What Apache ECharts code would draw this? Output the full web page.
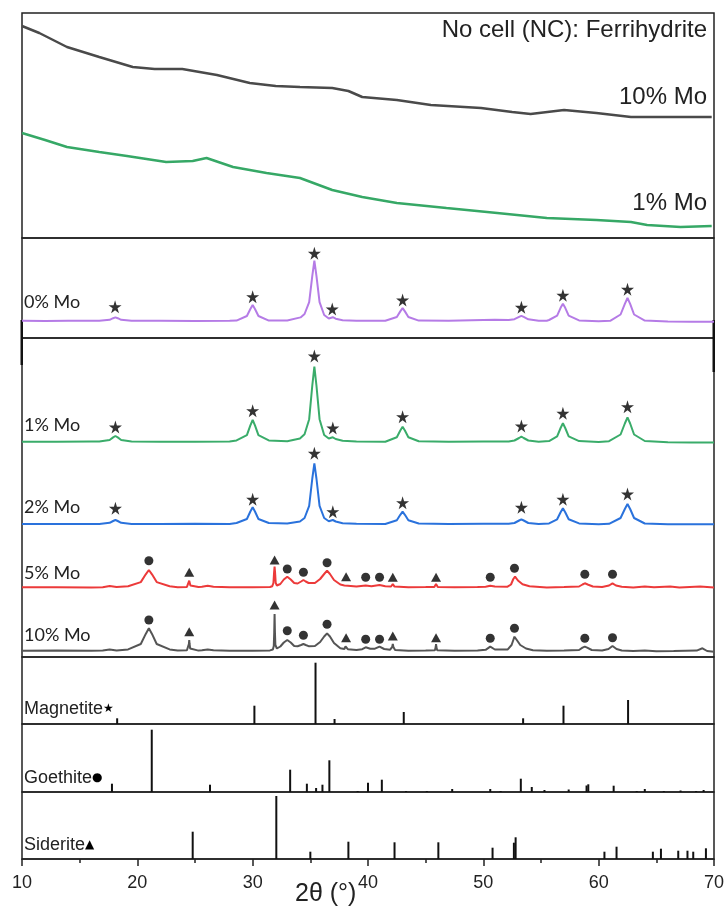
<!DOCTYPE html>
<html>
<head>
<meta charset="utf-8">
<script src="https://cdn.jsdelivr.net/npm/echarts@6/dist/echarts.min.js"></script>
<style>
  html, body { margin: 0; padding: 0; background: #fff; }
  #chart { width: 728px; height: 906px; }
</style>
</head>
<body>
<div id="chart"></div>
<script>
// 2θ range and tick labels
const xMin = 10, xMax = 70;
const xTicks = [10, 20, 30, 40, 50, 60, 70];

// top panel: no cell (NC) ferrihydrite, intensity in arbitrary units
const nc10 = [[10,212],[11.5,205],[13.9,191],[16.7,181],[19.6,171],[21.5,169],[23.9,169],[26.9,163],[29.75,155],[32,152],[34.1,151],[36.9,150],[38.3,147],[39.5,141],[42.5,138],[45.45,133],[49.8,130],[52.5,126],[54.1,124],[57.0,128],[59.8,125],[62.8,121],[65.7,121],[69.8,121]];
const nc1 = [[10,105],[12,98],[13.9,91],[16.7,86],[19.1,82],[22.5,76],[24.8,77],[26.0,80],[28.3,71],[31.2,65],[34.1,60],[36.9,48],[39.5,41],[42.5,35],[46.8,30],[51.2,25],[55.5,20],[59.8,18],[62.8,16],[64.2,13],[67.1,11],[69.8,12]];

// 0% Mo panel
const mo0 = [[10,16.3],[12,16.1],[14,16.3],[16,16.2],
  [16.7,16.2],[17.6,17.2],[17.9,18.8],[18.1,19.6],[18.3,18.8],[18.6,17.2],[19.5,16.2],
  [22,16.2],[25,16.1],[28,16.3],
  [28.6,16.4],[29.5,21.0],[29.8,28.0],[30.0,32.0],[30.2,28.0],[30.5,21.0],[31.4,16.4],
  [33,16.5],[34.15,19.6],[34.5,23.0],[34.9,34.8],[35.17,61.2],[35.35,76.3],[35.53,61.2],[35.8,34.8],[36.2,22],[36.6,18.5],
  [36.75,19.3],[36.95,19.8],[37.2,18.3],[37.8,16.8],[39,16.3],[41.5,16.2],
  [41.6,16.4],[42.5,20.0],[42.8,25.6],[43.0,28.8],[43.2,25.6],[43.5,20.0],[44.4,16.4],
  [47,16.2],[49,16.8],[51,17.2],[52.2,17],
  [52.7,17.8],[53.1,20.1],[53.3,21.2],[53.5,20.1],[53.9,17.7],[54.8,16.2],
  [55.5,16.3],[55.7,17.0],[56.4,21.3],[56.7,29.2],[56.9,33.2],[57.1,29.2],[57.4,21.3],[58.3,16.6],
  [60,15.8],[61,16.2],[61.9,22.5],[62.27,33.1],[62.5,39],[62.73,33.1],[63.07,22.5],[64.0,16.4],
  [66,15.5],[68,15.3],[70,15.2]];
const mo0Stars = [[18.07,30.3],[30.0,40.3],[35.35,83.7],[36.9,28],[43.0,37],[53.3,29.7],[56.9,41.7],[62.5,47.7]];

// main panel: 1 %, 2 %, 5 %, 10 % Mo
const mo1 = [[10,215.3],[13,215.2],[16,215.4],
  [16.7,215.4],[17.6,217.0],[17.9,219.6],[18.1,221],[18.3,219.6],[18.6,217.0],[19.5,215.5],
  [22,215.2],[25,215.3],[28,215.4],
  [28.6,216.6],[29.5,221.8],[29.8,231.6],[30.0,237],[30.2,231.6],[30.5,221.8],[31.4,216.6],
  [33,215.8],[34.1,218.5],[34.5,222.8],[34.9,237.8],[35.17,271.5],[35.35,290.3],[35.53,271.5],[35.8,237.8],[36.2,222],[36.6,218.5],
  [36.75,219],[36.95,219.7],[37.2,218],[37.8,216.2],[39,215.5],[41.5,215.3],
  [41.6,215.8],[42.5,219.8],[42.8,226.5],[43.0,230.3],[43.2,226.5],[43.5,219.8],[44.4,215.8],
  [47,215.2],[50,215.4],[52.2,215.6],
  [52.7,216.5],[53.1,219],[53.3,220.3],[53.5,219],[53.9,216.5],[54.8,215.3],
  [55.7,215.9],[56.4,220.6],[56.7,229],[56.9,233.7],[57.1,229],[57.4,220.6],[58.3,215.9],
  [60,215],[60.9,215.8],[61.9,222.5],[62.27,233.5],[62.5,239.7],[62.73,233.5],[63.07,222.5],[64.0,216],
  [66,214.8],[68,214.6],[70,214.4]];
const mo1Stars = [[18.1,230],[30.0,246.3],[35.35,301],[36.95,229],[43.0,240.3],[53.3,231],[56.9,243.7],[62.5,250.3]];

const mo2 = [[10,133],[13,133.1],[16,133.0],
  [16.7,133.1],[17.6,134.2],[17.9,136],[18.1,137],[18.3,136],[18.6,134.2],[19.5,133.1],
  [22,133],[25,133.2],[28,133.1],
  [28.6,134],[29.5,138],[29.8,145.5],[30.0,149.7],[30.2,145.5],[30.5,138],[31.4,134],
  [33,133.6],[34.1,135.5],[34.5,139],[34.9,151.2],[35.17,178.5],[35.35,193.7],[35.53,178.5],[35.8,151.2],[36.2,139],[36.6,135.8],
  [36.75,136.3],[36.95,137],[37.2,135.5],[37.8,133.8],[39,133.2],[41.5,133],
  [41.6,133.5],[42.5,136.7],[42.8,142.2],[43.0,145.3],[43.2,142.2],[43.5,136.7],[44.4,133.5],
  [47,133],[50,133.2],[52.2,133.3],
  [52.7,134],[53.1,136.5],[53.3,137.7],[53.5,136.5],[53.9,134],[54.8,133],
  [55.7,133.6],[56.4,137.7],[56.7,144.8],[56.9,148.7],[57.1,144.8],[57.4,137.7],[58.3,133.6],
  [60,132.8],[60.9,133.2],[61.9,139],[62.27,148],[62.5,153],[62.73,148],[63.07,139],[64.0,133.5],
  [66,132.8],[68,132.7],[70,132.7]];
const mo2Stars = [[18.1,148.7],[30.0,157.7],[35.35,203.7],[36.95,145.3],[43.0,154.3],[53.3,149.7],[56.9,157.7],[62.5,163]];

const mo5 = [[10,69.7],[13,69.8],[16,69.6],
  [17.0,69.8],[17.6,71.0],[18.2,69.9],
  [19.2,70.7],[20.3,74.9],[20.73,82.7],[21.0,87],[21.27,82.7],[21.68,74.9],[22.8,70.7],
  [23.5,69.8],[24.3,70.1],[24.4,71.5],[24.5,76.3],[24.6,71.5],[24.7,70.1],
  [25.3,69.9],[25.6,70.2],[26.1,71.3],[26.6,70.2],
  [28,69.8],[30,69.7],[31.5,70],
  [31.7,70.8],[31.8,74],[31.86,85],[31.9,90.3],[31.94,85],[32.0,74],[32.1,71.5],
  [32.4,73],[32.7,77.5],[33.0,80.3],[33.3,77.5],[33.6,74],
  [33.9,73.5],[34.2,75.5],[34.4,77],[34.6,75.5],[34.85,74],
  [35.4,74],[35.85,78],[36.2,83],[36.45,86.3],[36.7,83],[37.05,77],[37.6,72.5],
  [37.95,71.5],[38.1,72.8],[38.25,71.3],
  [39,70.5],[39.8,71.5],[40.3,70.8],[41.0,72.0],[41.5,70.8],
  [42.0,70.5],[42.15,73],[42.3,70.4],
  [43.5,69.8],[45,69.9],[45.75,70.1],[45.9,73],[46.05,70.1],
  [47.5,69.8],[49.5,70],[50.2,70.3],[50.6,71.3],[51.0,70.4],
  [52.1,70.3],[52.4,72.5],[52.6,78],[52.75,80.3],[53.0,76.5],[53.4,72.8],[54.0,70.8],
  [55.5,69.6],[57,70],[58.3,70.5],[58.6,72.5],[58.8,73.7],[59.1,72.3],[59.5,70.5],
  [60.3,70],[60.9,71.5],[61.2,73.7],[61.5,71.5],[62.0,70.2],
  [63,69.6],[64,70.6],[64.8,69.7],[66.2,70.5],[67,69.5],[68.8,70.6],[70,69.4]];
const mo5Goethite = [[21.0,96.3],[33.0,88],[34.4,84.7],[36.45,94.3],[39.8,79.7],[41.0,79.7],[50.6,79.7],[52.7,88.7],[58.8,82.7],[61.2,82.7]];
const mo5Siderite = [[24.5,84.7],[31.9,97],[38.1,80.3],[42.15,79.7],[45.9,79.7]];

const mo10 = [[10,6.3],[13,6.4],[16,6.2],
  [17.0,6.4],[17.6,7.4],[18.2,6.4],
  [19.2,7.6],[20.3,13],[20.73,23.1],[21.0,28.7],[21.27,23.1],[21.68,13],[22.8,7.6],
  [23.5,6.4],[24.3,6.7],[24.42,8.5],[24.47,13],[24.5,17],[24.53,13],[24.58,8.5],[24.7,6.7],
  [25.3,6.4],[25.6,6.7],[26.1,7.6],[26.6,6.7],
  [28,6.3],[30,6.3],[31.5,6.6],
  [31.75,7.5],[31.83,11],[31.87,25],[31.9,43],[31.93,25],[31.97,12],[32.1,8.5],
  [32.4,10.5],[32.7,14.5],[33.0,17],[33.3,14.5],[33.6,11],
  [33.9,10.8],[34.2,12],[34.4,13],[34.6,12],[34.85,10.8],
  [35.4,11],[35.85,15],[36.2,20.5],[36.45,23.7],[36.7,20.5],[37.05,14],[37.6,8.8],
  [37.95,8],[38.05,10.5],[38.1,12],[38.15,10.5],[38.25,7.8],
  [39,7],[39.5,7.8],[39.8,9.7],[40.2,8.2],[40.6,8.3],[41.0,10.3],[41.4,8],
  [41.9,7.2],[42.1,10],[42.15,13],[42.2,10],[42.35,7],
  [43.5,6.3],[45,6.4],[45.8,6.8],[45.87,10],[45.9,13],[45.93,10],[46.0,6.8],
  [47.5,6.3],[49.5,6.6],[50.2,7.2],[50.6,10.3],[51.0,7.5],
  [52.1,7.4],[52.45,12],[52.6,17],[52.7,20.3],[52.9,17],[53.2,12],[53.7,8.5],[54.3,6.8],
  [55.5,6.2],[57,6.5],[58.3,7],[58.6,9.3],[58.8,10.3],[59.0,9.3],[59.4,7],
  [60.3,6.5],[60.85,8],[61.2,11],[61.55,8],[62.0,6.5],
  [63,6],[64,6.6],[65,5.8],[66.5,6.0],[68.5,6.4],[69.0,8.7],[69.4,6],[70,5.3]];
const mo10Goethite = [[21.0,37],[33.0,26.3],[34.4,21.7],[36.45,32.7],[39.8,17.7],[41.0,17.7],[50.6,18.7],[52.7,28.7],[58.8,18.7],[61.2,19.3]];
const mo10Siderite = [[24.5,25.3],[31.9,52],[38.1,19.3],[42.15,21],[45.9,19.3]];

// reference stick patterns
const magnetiteRef = [[18.25,5.7],[30.15,18.3],[35.45,61.3],[37.1,5],[43.1,12],[53.45,5.7],[56.95,18.3],[62.55,24]];
const goethiteRef = [[17.8,8.3],[21.25,62.3],[26.3,7.3],[33.25,22.3],[34.7,8.3],[35.5,4],[36.05,7.3],[36.65,31.7],[39.1,1],[40.0,9.3],[41.2,12.3],[43.3,1],[45.1,1],[47.3,3],[50.6,3],[51.5,1],[53.25,13.3],[54.2,5],[55.3,2],[57.4,2.5],[58.95,6.5],[59.1,7.7],[61.3,6.3],[63.3,1],[64.0,3],[65.65,1],[67.1,1.5],[68.45,1],[69.1,2]];
const sideriteRef = [[24.8,27.3],[32.05,63],[35.0,7.3],[38.3,17.3],[42.3,16.7],[46.1,16.7],[50.8,11.3],[52.65,16.3],[52.8,21.7],[60.5,7.3],[61.55,12.3],[64.7,7.3],[65.4,10.3],[66.9,8.3],[67.7,8.3],[68.2,7.3],[69.3,10.7]];

const STAR = 'path://M50,0 L61,35 L98,35 L68,57 L79,91 L50,70 L21,91 L32,57 L2,35 L39,35 Z';

// panel layout: [top, height, yMin, yMax]
const panels = [
  [13, 225, 0, 225],
  [238, 100, -1, 99],
  [338, 319, 0, 319],
  [657, 67, 0, 67],
  [724, 68, 0, 68],
  [792, 67, 0, 67]
];

const chart = echarts.init(document.getElementById('chart'), null, { renderer: 'canvas' });

const grid = panels.map(p => ({
  left: 22, right: 14, top: p[0], height: p[1],
  show: true, borderColor: '#222', borderWidth: 1.5, backgroundColor: 'transparent'
}));

const xAxis = panels.map((p, i) => {
  const last = i === panels.length - 1;
  return {
    type: 'value', gridIndex: i, min: xMin, max: xMax, interval: 10,
    axisLine: { show: last, lineStyle: { color: '#222', width: 1.5 } },
    axisTick: { show: last, inside: false, length: 7, lineStyle: { color: '#222', width: 1.5 } },
    minorTick: { show: last, splitNumber: 2, length: 4, lineStyle: { color: '#222', width: 1.5 } },
    axisLabel: {
      show: last, margin: 15, color: '#222', fontSize: 18, fontFamily: 'Liberation Sans',
      formatter: v => (xTicks.includes(v) ? String(v) : '')
    },
    splitLine: { show: false }
  };
});

const yAxis = panels.map((p, i) => ({
  type: 'value', gridIndex: i, min: p[2], max: p[3],
  show: false, splitLine: { show: false }
}));

const line = (data, idx, color, width) => ({
  type: 'line', xAxisIndex: idx, yAxisIndex: idx, data,
  showSymbol: false, symbol: 'none', silent: true,
  lineStyle: { color, width }
});
const marks = (data, idx, symbol, size) => ({
  type: 'scatter', xAxisIndex: idx, yAxisIndex: idx, data,
  symbol, symbolSize: size, silent: true,
  itemStyle: { color: '#000' }
});
const sticks = (data, idx) => ({
  type: 'bar', xAxisIndex: idx, yAxisIndex: idx, data,
  barWidth: 2, silent: true, itemStyle: { color: '#111' }
});

const series = [
  line(nc10, 0, '#4a4a4a', 2.5),
  line(nc1, 0, '#36a866', 2.5),
  line(mo0, 1, '#b57be6', 2),
  marks(mo0Stars, 1, STAR, 13),
  line(mo1, 2, '#3aac6a', 2),
  marks(mo1Stars, 2, STAR, 13),
  line(mo2, 2, '#2a72dc', 2),
  marks(mo2Stars, 2, STAR, 13),
  line(mo5, 2, '#ec3a3a', 2),
  marks(mo5Goethite, 2, 'circle', 9),
  marks(mo5Siderite, 2, 'triangle', [10, 9]),
  line(mo10, 2, '#555555', 2),
  marks(mo10Goethite, 2, 'circle', 9),
  marks(mo10Siderite, 2, 'triangle', [10, 9]),
  sticks(magnetiteRef, 3),
  sticks(goethiteRef, 4),
  sticks(sideriteRef, 5)
];

// text labels
const txt = (text, x, y, font, align, rich) => ({
  type: 'text', x, y, silent: true,
  style: {
    text, font, fill: '#222',
    textAlign: align, align, textVerticalAlign: 'middle', verticalAlign: 'middle',
    rich: rich || {}
  }
});
const arial = '"Liberation Sans", Arial, sans-serif';
const lato = 'Lato, "Open Sans", sans-serif';
const symRich = { s: { fontSize: 12, fill: '#000', fontFamily: 'DejaVu Sans' } };

const graphic = [
  txt('No cell (NC): Ferrihydrite', 707, 30, '24px ' + arial, 'right'),
  txt('10% Mo', 707, 97, '24px ' + arial, 'right'),
  txt('1% Mo', 707, 203, '24px ' + arial, 'right'),
  txt('0% Mo', 24, 302, '18px ' + lato, 'left'),
  txt('1% Mo', 24, 425, '18px ' + lato, 'left'),
  txt('2% Mo', 24, 507, '18px ' + lato, 'left'),
  txt('5% Mo', 24, 573, '18px ' + lato, 'left'),
  txt('10% Mo', 24, 635, '18px ' + lato, 'left'),
  txt('Magnetite{s|★}', 24, 709, '18px ' + arial, 'left', symRich),
  txt('Goethite{s|●}', 24, 778, '18px ' + arial, 'left', symRich),
  txt('Siderite{s|▲}', 24, 845, '18px ' + arial, 'left', symRich),
  txt('2θ (°)', 295, 894, '25px ' + arial, 'left'),
  // heavier border segments where the panels were stacked
  { type: 'rect', silent: true, shape: { x: 20.5, y: 320, width: 2.5, height: 45 }, style: { fill: '#111' } },
  { type: 'rect', silent: true, shape: { x: 712.5, y: 320, width: 2.5, height: 52 }, style: { fill: '#111' } }
];

chart.setOption({
  animation: false,
  backgroundColor: '#fff',
  grid, xAxis, yAxis, series, graphic
});
</script>
</body>
</html>
